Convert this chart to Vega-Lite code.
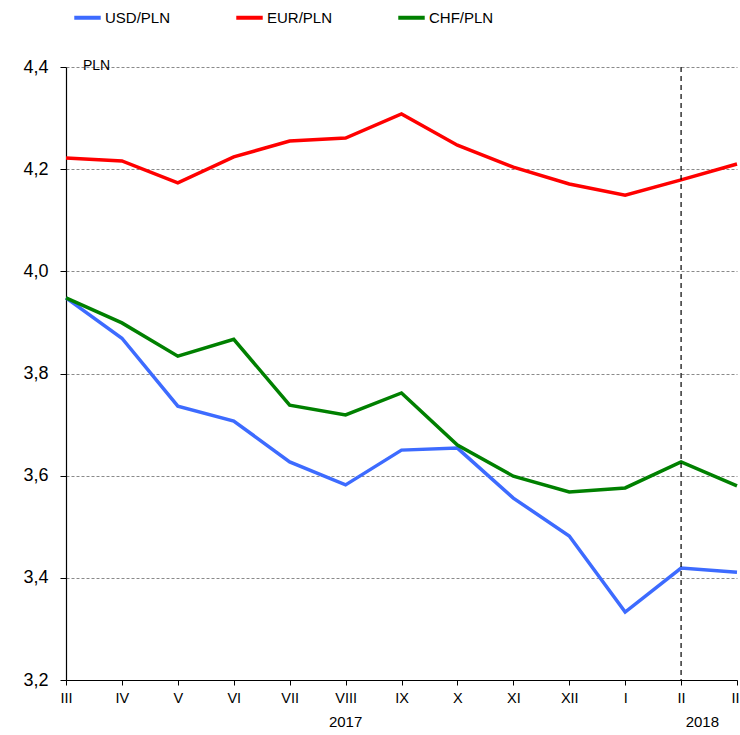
{
  "$schema": "https://vega.github.io/schema/vega-lite/v6.json",
  "width": 671,
  "height": 613,
  "autosize": {"type": "none"},
  "padding": {"left": 66, "top": 67, "right": 3, "bottom": 55},
  "background": "white",
  "config": {
    "font": "Liberation Sans",
    "view": {"stroke": null}
  },
  "datasets": {
    "fx": [
      {"i": 0, "pair": "USD/PLN", "v": 3.948}, {"i": 1, "pair": "USD/PLN", "v": 3.869}, {"i": 2, "pair": "USD/PLN", "v": 3.736}, {"i": 3, "pair": "USD/PLN", "v": 3.707}, {"i": 4, "pair": "USD/PLN", "v": 3.627}, {"i": 5, "pair": "USD/PLN", "v": 3.582}, {"i": 6, "pair": "USD/PLN", "v": 3.650}, {"i": 7, "pair": "USD/PLN", "v": 3.654}, {"i": 8, "pair": "USD/PLN", "v": 3.556}, {"i": 9, "pair": "USD/PLN", "v": 3.482}, {"i": 10, "pair": "USD/PLN", "v": 3.333}, {"i": 11, "pair": "USD/PLN", "v": 3.419}, {"i": 12, "pair": "USD/PLN", "v": 3.411},
      {"i": 0, "pair": "EUR/PLN", "v": 4.222}, {"i": 1, "pair": "EUR/PLN", "v": 4.216}, {"i": 2, "pair": "EUR/PLN", "v": 4.173}, {"i": 3, "pair": "EUR/PLN", "v": 4.224}, {"i": 4, "pair": "EUR/PLN", "v": 4.255}, {"i": 5, "pair": "EUR/PLN", "v": 4.261}, {"i": 6, "pair": "EUR/PLN", "v": 4.308}, {"i": 7, "pair": "EUR/PLN", "v": 4.247}, {"i": 8, "pair": "EUR/PLN", "v": 4.204}, {"i": 9, "pair": "EUR/PLN", "v": 4.171}, {"i": 10, "pair": "EUR/PLN", "v": 4.149}, {"i": 11, "pair": "EUR/PLN", "v": 4.179}, {"i": 12, "pair": "EUR/PLN", "v": 4.210},
      {"i": 0, "pair": "CHF/PLN", "v": 3.948}, {"i": 1, "pair": "CHF/PLN", "v": 3.899}, {"i": 2, "pair": "CHF/PLN", "v": 3.834}, {"i": 3, "pair": "CHF/PLN", "v": 3.867}, {"i": 4, "pair": "CHF/PLN", "v": 3.738}, {"i": 5, "pair": "CHF/PLN", "v": 3.719}, {"i": 6, "pair": "CHF/PLN", "v": 3.762}, {"i": 7, "pair": "CHF/PLN", "v": 3.660}, {"i": 8, "pair": "CHF/PLN", "v": 3.599}, {"i": 9, "pair": "CHF/PLN", "v": 3.568}, {"i": 10, "pair": "CHF/PLN", "v": 3.576}, {"i": 11, "pair": "CHF/PLN", "v": 3.627}, {"i": 12, "pair": "CHF/PLN", "v": 3.580}
    ],
    "years": [
      {"i": 5, "year": "2017"},
      {"i": 11.38, "year": "2018"}
    ]
  },
  "layer": [
    {
      "data": {"name": "fx"},
      "mark": {"type": "line", "strokeWidth": 3.5, "clip": false},
      "encoding": {
        "x": {
          "field": "i", "type": "quantitative",
          "scale": {"domain": [0, 12], "nice": false, "zero": false},
          "axis": {
            "title": null,
            "values": [0,1,2,3,4,5,6,7,8,9,10,11,12],
            "labelExpr": "['III','IV','V','VI','VII','VIII','IX','X','XI','XII','I','II','III'][datum.value]",
            "grid": false,
            "domainColor": "#000000",
            "domainWidth": 1.2,
            "tickColor": "#000000",
            "tickSize": 5,
            "labelFontSize": 14.5,
            "labelColor": "#000000",
            "labelPadding": 6,
            "labelFlush": false,
            "labelOverlap": false
          }
        },
        "y": {
          "field": "v", "type": "quantitative",
          "scale": {"domain": [3.2, 4.4], "nice": false, "zero": false},
          "axis": {
            "title": null,
            "values": [3.2, 3.4, 3.6, 3.8, 4.0, 4.2, 4.4],
            "labelExpr": "replace(format(datum.value, '.1f'), '.', ',')",
            "grid": true,
            "gridColor": "#8a8a8a",
            "gridDash": [3, 2],
            "gridWidth": 1,
            "domainColor": "#000000",
            "domainWidth": 1.2,
            "tickColor": "#000000",
            "tickSize": 6,
            "labelFontSize": 18,
            "labelColor": "#000000",
            "labelPadding": 12,
            "labelFlush": false
          }
        },
        "color": {
          "field": "pair", "type": "nominal",
          "scale": {"domain": ["USD/PLN", "EUR/PLN", "CHF/PLN"], "range": ["#3d6bff", "#ff0000", "#008000"]},
          "legend": {
            "title": null,
            "orient": "none",
            "legendX": 6,
            "legendY": -65,
            "direction": "horizontal",
            "columns": 3,
            "gridAlign": "all",
            "symbolType": "stroke",
            "symbolStrokeWidth": 4,
            "symbolSize": 700,
            "labelFontSize": 15,
            "labelColor": "#000000",
            "labelOffset": 2,
            "columnPadding": 57
          }
        }
      }
    },
    {
      "data": {"values": [{"i": 11}]},
      "mark": {"type": "rule", "color": "#000000", "strokeDash": [5, 4], "strokeWidth": 1.2},
      "encoding": {"x": {"field": "i", "type": "quantitative"}}
    },
    {
      "data": {"name": "years"},
      "mark": {"type": "text", "fontSize": 15, "color": "#000000", "dy": 42, "align": "center", "baseline": "middle"},
      "encoding": {
        "x": {"field": "i", "type": "quantitative"},
        "y": {"datum": 3.2, "type": "quantitative"},
        "text": {"field": "year"}
      }
    },
    {
      "data": {"values": [{"i": 0, "t": "PLN"}]},
      "mark": {"type": "text", "fontSize": 14, "color": "#000000", "dx": 17, "dy": -1, "align": "left", "baseline": "middle"},
      "encoding": {
        "x": {"field": "i", "type": "quantitative"},
        "y": {"datum": 4.4, "type": "quantitative"},
        "text": {"field": "t"}
      }
    }
  ]
}
